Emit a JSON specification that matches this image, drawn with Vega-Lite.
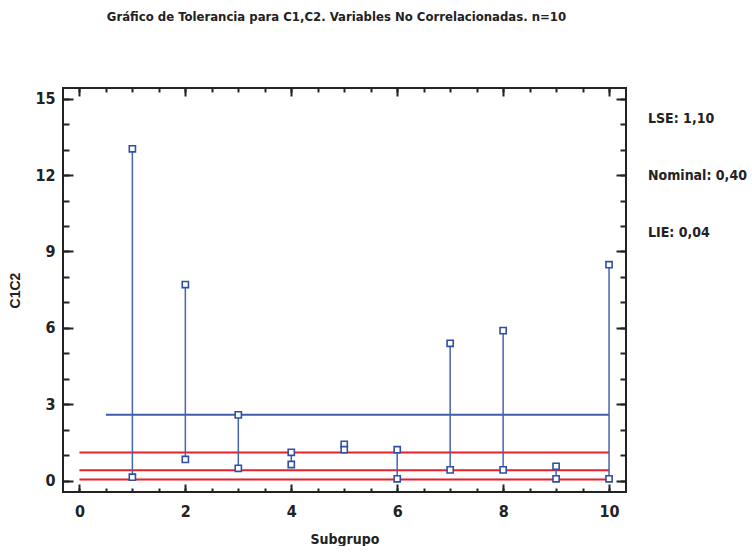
{
  "$schema": "https://vega.github.io/schema/vega-lite/v6.json",
  "width": 563,
  "height": 404,
  "padding": {"left": 8, "top": 11, "right": 0, "bottom": 0},
  "background": "white",
  "title": {
    "text": "Gráfico de Tolerancia para C1,C2. Variables No Correlacionadas. n=10",
    "font": "DejaVu Sans Condensed, Roboto, sans-serif",
    "fontSize": 13,
    "fontWeight": "bold",
    "color": "#222222",
    "offset": 63,
    "anchor": "middle",
    "frame": "group",
    "dx": -8
  },
  "config": {
    "view": {"stroke": "#222222", "strokeWidth": 2},
    "axis": {
      "grid": false,
      "domain": false,
      "tickColor": "#222222",
      "tickWidth": 2,
      "labelFont": "DejaVu Sans Condensed, Roboto, sans-serif",
      "labelFontSize": 16,
      "labelFontWeight": "bold",
      "labelColor": "#222222",
      "titleFontWeight": "bold",
      "titleColor": "#222222"
    }
  },
  "datasets": {
    "limites": [
      {"etiqueta": "LSE: 1,10", "valor": 1.10},
      {"etiqueta": "Nominal: 0,40", "valor": 0.40},
      {"etiqueta": "LIE: 0,04", "valor": 0.04}
    ],
    "centro": [
      {"valor": 2.58}
    ],
    "puntos": [
      {"subgrupo": 1, "valor": 13.03}, {"subgrupo": 1, "valor": 0.13},
      {"subgrupo": 2, "valor": 7.70}, {"subgrupo": 2, "valor": 0.83},
      {"subgrupo": 3, "valor": 2.58}, {"subgrupo": 3, "valor": 0.48},
      {"subgrupo": 4, "valor": 1.11}, {"subgrupo": 4, "valor": 0.63},
      {"subgrupo": 5, "valor": 1.42}, {"subgrupo": 5, "valor": 1.21},
      {"subgrupo": 6, "valor": 1.21}, {"subgrupo": 6, "valor": 0.07},
      {"subgrupo": 7, "valor": 5.39}, {"subgrupo": 7, "valor": 0.42},
      {"subgrupo": 8, "valor": 5.89}, {"subgrupo": 8, "valor": 0.42},
      {"subgrupo": 9, "valor": 0.56}, {"subgrupo": 9, "valor": 0.07},
      {"subgrupo": 10, "valor": 8.48}, {"subgrupo": 10, "valor": 0.07}
    ]
  },
  "layer": [
    {
      "data": {"name": "limites"},
      "mark": {"type": "rule", "strokeWidth": 2},
      "encoding": {
        "x": {
          "datum": 0,
          "type": "quantitative",
          "scale": {"domain": [-0.31, 10.32], "nice": false, "zero": false},
          "axis": {
            "orient": "bottom",
            "values": [0, 2, 4, 6, 8, 10],
            "tickSize": -8,
            "labelPadding": 19,
            "title": "Subgrupo",
            "titleFont": "DejaVu Sans Condensed, Roboto, sans-serif",
            "titleFontSize": 14,
            "titlePadding": 13
          }
        },
        "x2": {"datum": 10},
        "y": {
          "field": "valor",
          "type": "quantitative",
          "scale": {"domain": [-0.45, 15.42], "nice": false, "zero": false},
          "axis": {
            "orient": "left",
            "values": [0, 3, 6, 9, 12, 15],
            "tickSize": -10,
            "labelPadding": 18,
            "title": "C1C2",
            "titleFont": "Liberation Sans",
            "titleFontSize": 14,
            "titlePadding": 12
          }
        },
        "color": {
          "field": "etiqueta",
          "type": "nominal",
          "scale": {
            "domain": ["LSE: 1,10", "Nominal: 0,40", "LIE: 0,04"],
            "range": ["#e8202a", "#e8202a", "#e8202a"]
          },
          "legend": {
            "orient": "none",
            "legendX": 571,
            "legendY": 24,
            "title": null,
            "symbolSize": 0,
            "symbolOpacity": 0,
            "symbolStrokeWidth": 0,
            "labelOffset": 0,
            "labelFont": "DejaVu Sans Condensed, Roboto, sans-serif",
            "labelFontSize": 14,
            "labelFontWeight": "bold",
            "labelColor": "#222222",
            "labelLimit": 200,
            "rowPadding": 43
          }
        }
      }
    },
    {
      "data": {"name": "centro"},
      "mark": {"type": "rule", "strokeWidth": 2, "color": "#3f5cab"},
      "encoding": {
        "x": {
          "datum": 0.5,
          "type": "quantitative",
          "axis": {
            "orient": "bottom",
            "values": [0, 0.5, 1, 1.5, 2, 2.5, 3, 3.5, 4, 4.5, 5, 5.5, 6, 6.5, 7, 7.5, 8, 8.5, 9, 9.5, 10],
            "tickSize": -4,
            "labels": false,
            "title": null
          }
        },
        "x2": {"datum": 10},
        "y": {
          "field": "valor",
          "type": "quantitative",
          "axis": {
            "orient": "left",
            "values": [0, 1, 2, 3, 4, 5, 6, 7, 8, 9, 10, 11, 12, 13, 14, 15],
            "tickSize": -6,
            "labels": false,
            "title": null
          }
        }
      }
    },
    {
      "data": {"name": "puntos"},
      "mark": {"type": "rule", "strokeWidth": 1.5, "color": "#4763ae"},
      "encoding": {
        "x": {
          "field": "subgrupo",
          "type": "quantitative",
          "axis": {
            "orient": "top",
            "values": [0, 2, 4, 6, 8, 10],
            "tickSize": -8,
            "labels": false,
            "title": null
          }
        },
        "y": {
          "aggregate": "min",
          "field": "valor",
          "type": "quantitative",
          "axis": {
            "orient": "right",
            "values": [0, 3, 6, 9, 12, 15],
            "tickSize": -10,
            "labels": false,
            "title": null
          }
        },
        "y2": {"aggregate": "max", "field": "valor"}
      }
    },
    {
      "data": {"name": "puntos"},
      "mark": {"type": "point", "shape": "square", "size": 38, "filled": false, "fill": "white", "fillOpacity": 1, "stroke": "#2f4fa3", "strokeWidth": 1.6, "opacity": 1},
      "encoding": {
        "x": {
          "field": "subgrupo",
          "type": "quantitative",
          "axis": {
            "orient": "top",
            "values": [0, 0.5, 1, 1.5, 2, 2.5, 3, 3.5, 4, 4.5, 5, 5.5, 6, 6.5, 7, 7.5, 8, 8.5, 9, 9.5, 10],
            "tickSize": -4,
            "labels": false,
            "title": null
          }
        },
        "y": {
          "field": "valor",
          "type": "quantitative",
          "axis": {
            "orient": "right",
            "values": [0, 1, 2, 3, 4, 5, 6, 7, 8, 9, 10, 11, 12, 13, 14, 15],
            "tickSize": -6,
            "labels": false,
            "title": null
          }
        }
      }
    }
  ],
  "resolve": {"axis": {"x": "independent", "y": "independent"}}
}
